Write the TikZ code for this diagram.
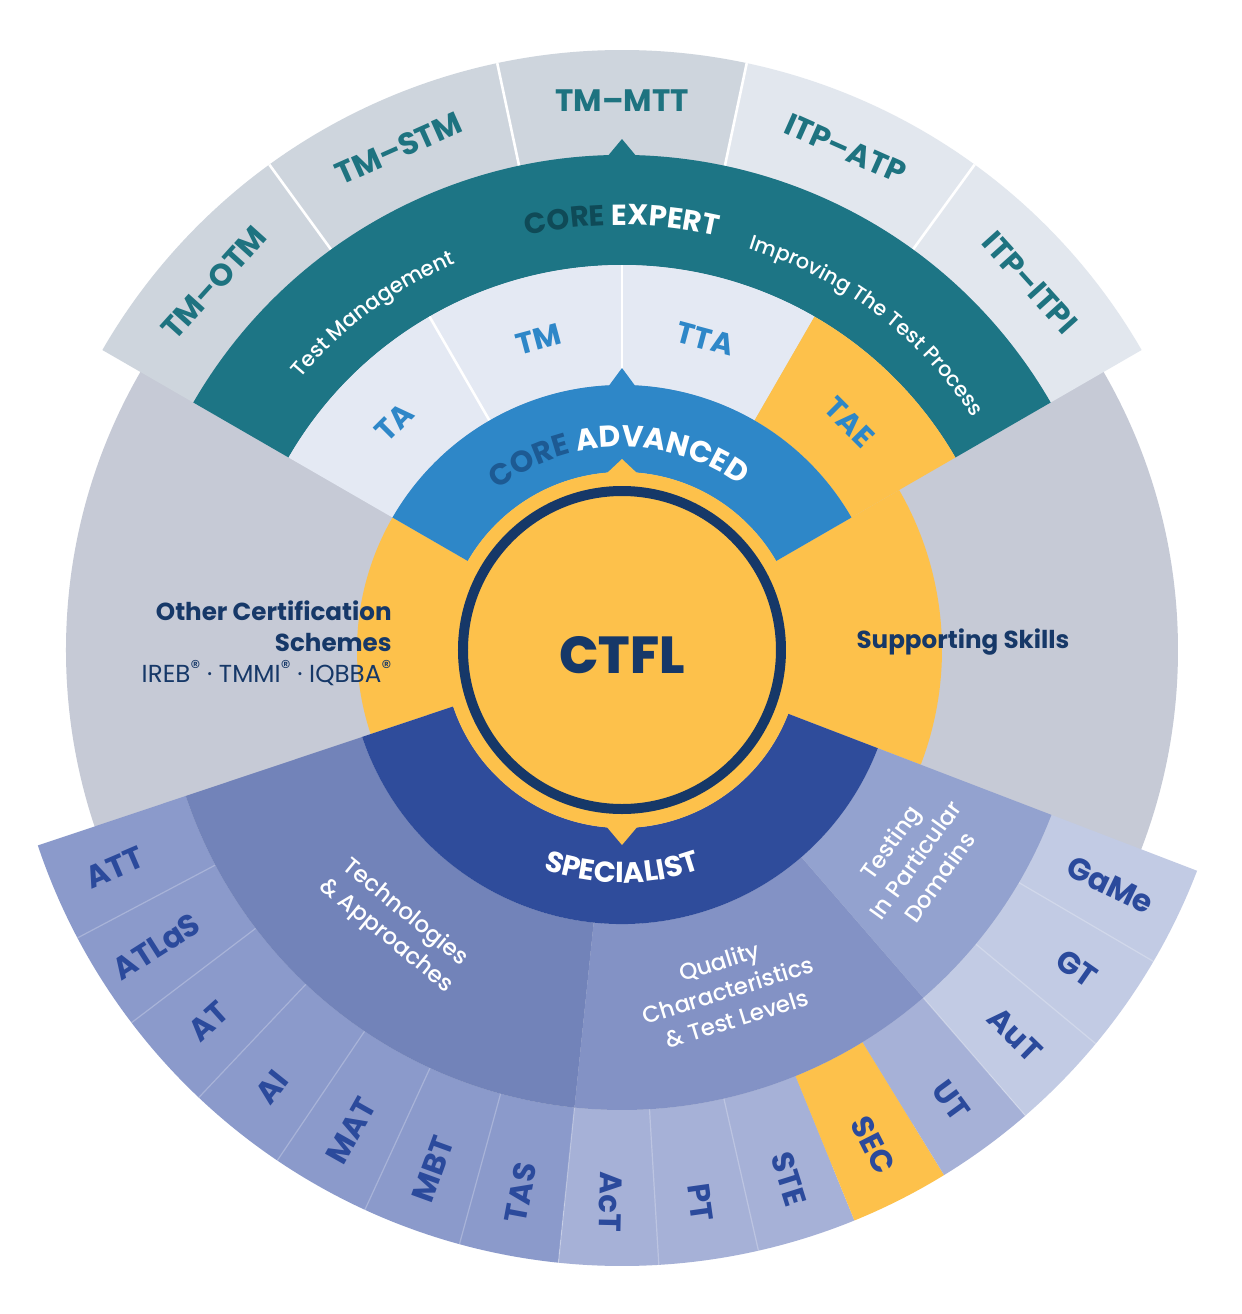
\documentclass[tikz,border=0pt]{standalone}
\usepackage{fontspec}
\setmainfont{Poppins}
\IfFontExistsTF{Poppins ExtraBold}{\newfontfamily\heavyfont{Poppins ExtraBold}}{\newcommand{\heavyfont}{\bfseries}}
\IfFontExistsTF{Poppins Medium}{\newfontfamily\mediumfont{Poppins Medium}}{\newcommand{\mediumfont}{}}
\usepackage{tikz}
\usetikzlibrary{decorations.text}
\usepackage{xcolor}
\definecolor{graydisk}{HTML}{C6CAD6}
\definecolor{tmbox}{HTML}{CED5DD}
\definecolor{itpbox}{HTML}{E2E7EE}
\definecolor{expertteal}{HTML}{1D7585}
\definecolor{expertdark}{HTML}{0F4A57}
\definecolor{experttext}{HTML}{1E7380}
\definecolor{advbox}{HTML}{E4E9F3}
\definecolor{advblue}{HTML}{2E87C8}
\definecolor{advdark}{HTML}{1D5A93}
\definecolor{ctflyellow}{HTML}{FDC14B}
\definecolor{ctflnavy}{HTML}{163868}
\definecolor{specblue}{HTML}{2F4C9B}
\definecolor{techband}{HTML}{7283B9}
\definecolor{qualband}{HTML}{8392C5}
\definecolor{domband}{HTML}{93A2CF}
\definecolor{techitem}{HTML}{8B9ACB}
\definecolor{qualitem}{HTML}{A6B1D7}
\definecolor{domitem}{HTML}{C2CBE4}
\definecolor{itemtext}{HTML}{2B4A9C}
% ring part: colour, start angle, end angle, inner radius, outer radius
\newcommand{\ringpart}[5]{%
  \fill[#1] (#2:#4) -- (#2:#5) arc[start angle=#2, end angle=#3, radius=#5]
    -- (#3:#4) arc[start angle=#3, end angle=#2, radius=#4] -- cycle;}
\newcommand{\regmark}{\raisebox{0.3em}{\fontsize{10}{10}\selectfont ®}}

\begin{document}
\begin{tikzpicture}[
    x=0.5pt, y=0.5pt,
    explabel/.style={font=\fontsize{15.5}{15.5}\selectfont\bfseries, text=experttext, inner sep=0pt},
    advlabel/.style={font=\fontsize{15}{15}\selectfont\bfseries, text=advblue, inner sep=0pt},
    itemlabel/.style={font=\fontsize{15.5}{15.5}\selectfont\bfseries, text=itemtext, inner sep=0pt},
    grouplabel/.style={font=\fontsize{11.5}{15}\selectfont\mediumfont, text=white, align=center, inner sep=0pt},
    sideline/.style={font=\fontsize{12.3}{15.5}\selectfont, text=ctflnavy, inner sep=0pt},
    sepline/.style={white, line width=1.3pt},
    itemline/.style={white, opacity=0.25, line width=0.6pt}
]
    \fill[white] (-622,-664) rectangle (620,650);
    \useasboundingbox (-622,-664) rectangle (620,650);

    % Background disk
    \fill[graydisk] (0,0) circle[radius=556];

    % Expert modules
    \ringpart{tmbox}{126}{150}{495}{600}
    \ringpart{tmbox}{102}{126}{495}{600}
    \ringpart{tmbox}{78}{102}{495}{600}
    \ringpart{itpbox}{54}{78}{495}{600}
    \ringpart{itpbox}{30}{54}{495}{600}
    \draw[sepline] (126:495) -- (126:600);
    \draw[sepline] (102:495) -- (102:600);
    \draw[sepline] (78:495) -- (78:600);
    \draw[sepline] (54:495) -- (54:600);

    % Core expert band
    \ringpart{expertteal}{30}{150}{385}{495}
    \fill[expertteal] (-15,493) -- (0,511) -- (15,493) -- cycle;

    % Advanced modules
    \ringpart{advbox}{120}{150}{265}{385}
    \ringpart{advbox}{90}{120}{265}{385}
    \ringpart{advbox}{60}{90}{265}{385}
    \ringpart{ctflyellow}{30}{60}{265}{385}
    \draw[sepline] (120:265) -- (120:385);
    \draw[sepline] (90:265) -- (90:385);

    % Side sectors
    \ringpart{ctflyellow}{150}{198.5}{1}{265}
    \ringpart{ctflyellow}{-21}{30}{1}{320}

    % Specialist modules
    \ringpart{techitem}{198.5}{264.07}{460}{616}
    \ringpart{qualitem}{264.07}{292.17}{460}{616}
    \ringpart{ctflyellow}{292.17}{301.53}{460}{616}
    \ringpart{qualitem}{301.53}{310.9}{460}{616}
    \ringpart{domitem}{310.9}{339}{460}{616}
    \draw[itemline] (207.87:460) -- (207.87:616);
    \draw[itemline] (217.23:460) -- (217.23:616);
    \draw[itemline] (226.6:460) -- (226.6:616);
    \draw[itemline] (235.97:460) -- (235.97:616);
    \draw[itemline] (245.33:460) -- (245.33:616);
    \draw[itemline] (254.7:460) -- (254.7:616);
    \draw[itemline] (264.07:460) -- (264.07:616);
    \draw[itemline] (273.43:460) -- (273.43:616);
    \draw[itemline] (282.8:460) -- (282.8:616);
    \draw[itemline] (310.9:460) -- (310.9:616);
    \draw[itemline] (320.27:460) -- (320.27:616);
    \draw[itemline] (329.63:460) -- (329.63:616);

    % Specialist groups
    \ringpart{techband}{198.5}{264.07}{274}{460}
    \ringpart{qualband}{264.07}{310.9}{274}{460}
    \ringpart{domband}{310.9}{339}{274}{460}
    \ringpart{specblue}{198.5}{339}{178}{274}

    % Core advanced band
    \ringpart{advblue}{30}{150}{178}{265}
    \fill[advblue] (-14,263) -- (0,282) -- (14,263) -- cycle;

    % CTFL
    \fill[ctflyellow] (0,0) circle[radius=178];
    \fill[ctflyellow] (-16,176) -- (0,191) -- (16,176) -- cycle;
    \fill[ctflyellow] (-16,-176) -- (0,-195) -- (16,-176) -- cycle;
    \draw[ctflnavy, line width=5pt] (0,0) circle[radius=159];
    \node[font=\fontsize{26}{26}\selectfont\heavyfont, text=ctflnavy, inner sep=0pt] (ctfl) at (0,-5) {CTFL};

    % Band titles
    \path[decorate, decoration={text along path, text align=center,
        text={|\fontsize{14.5}{14.5}\selectfont\bfseries\color{expertdark}|CORE |\fontsize{14.5}{14.5}\selectfont\bfseries\color{white}|EXPERT}}]
        (115:425) arc[start angle=115, end angle=65, radius=425];
    \path[decorate, decoration={text along path, text align=center,
        text={|\fontsize{10.6}{10.6}\selectfont\mediumfont\color{white}|Test Management}}]
        (151:421) arc[start angle=151, end angle=102, radius=421];
    \path[decorate, decoration={text along path, text align=center,
        text={|\fontsize{10.4}{10.4}\selectfont\mediumfont\color{white}|Improving The Test Process}}]
        (85:421) arc[start angle=85, end angle=21, radius=421];
    \path[decorate, decoration={text along path, text align=center,
        text={|\fontsize{15}{15}\selectfont\bfseries\color{advdark}|CORE |\fontsize{15}{15}\selectfont\bfseries\color{white}|ADVANCED}}]
        (135:203) arc[start angle=135, end angle=47, radius=203];
    \path[decorate, decoration={text along path, text align=center,
        text={|\fontsize{14.5}{14.5}\selectfont\bfseries\color{white}|SPECIALIST}}]
        (235:233) arc[start angle=235, end angle=305, radius=233];

    % Expert labels
    \node[explabel, rotate=48] (tmotm) at (138:549) {TM–OTM};
    \node[explabel, rotate=24] (tmstm) at (114:549) {TM–STM};
    \node[explabel] (tmmtt) at (90:549) {TM–MTT};
    \node[explabel, rotate=-24] (itpatp) at (66:549) {ITP–ATP};
    \node[explabel, rotate=-48] (itpitpi) at (42:549) {ITP–ITPI};

    % Advanced labels
    \node[advlabel, rotate=45] (ta) at (135:322) {TA};
    \node[advlabel, rotate=15] (tm) at (105:322) {TM};
    \node[advlabel, rotate=-15] (tta) at (75:322) {TTA};
    \node[advlabel, rotate=-45] (tae) at (45:322) {TAE};

    % Specialist groups labels
    \node[grouplabel, rotate=-39.5] (techlbl) at (230.5:356) {Technologies\\\& Approaches};
    \node[grouplabel, rotate=17.3] (quallbl) at (287.3:356) {Quality\\Characteristics\\\& Test Levels};
    \node[grouplabel, rotate=54.4] (domlbl) at (324.4:360) {Testing\\In Particular\\Domains};

    % Specialist labels
    \node[itemlabel, rotate=23.2] (att) at (203.2:552) {ATT};
    \node[itemlabel, rotate=32.5] (atlas) at (212.5:552) {ATLaS};
    \node[itemlabel, rotate=41.9] (at) at (221.9:556) {AT};
    \node[itemlabel, rotate=51.3] (ai) at (231.3:560) {AI};
    \node[itemlabel, rotate=60.6] (mat) at (240.6:552) {MAT};
    \node[itemlabel, rotate=70.0] (mbt) at (250.0:552) {MBT};
    \node[itemlabel, rotate=79.4] (tas) at (259.4:552) {TAS};
    \node[itemlabel, rotate=268.8] (act) at (268.8:552) {AcT};
    \node[itemlabel, rotate=278.1] (pt) at (278.1:558) {PT};
    \node[itemlabel, rotate=287.5] (ste) at (287.5:555) {STE};
    \node[itemlabel, rotate=296.9] (sec) at (296.9:555) {SEC};
    \node[itemlabel, rotate=306.2] (ut) at (306.2:558) {UT};
    \node[itemlabel, rotate=315.6] (aut) at (315.6:550) {AuT};
    \node[itemlabel, rotate=325.0] (gt) at (325.0:555) {GT};
    \node[itemlabel, rotate=334.3] (game) at (334.3:542) {GaMe};

    % Side labels
    \node[sideline, anchor=north east, align=right] (other) at (-230,50)
        {\textbf{Other Certification}\\\textbf{Schemes}\\IREB\regmark{} · TMMI\regmark{} · IQBBA\regmark};
    \node[sideline, font=\fontsize{12.3}{15}\selectfont\bfseries] (support) at (341,8) {Supporting Skills};
\end{tikzpicture}
\end{document}
